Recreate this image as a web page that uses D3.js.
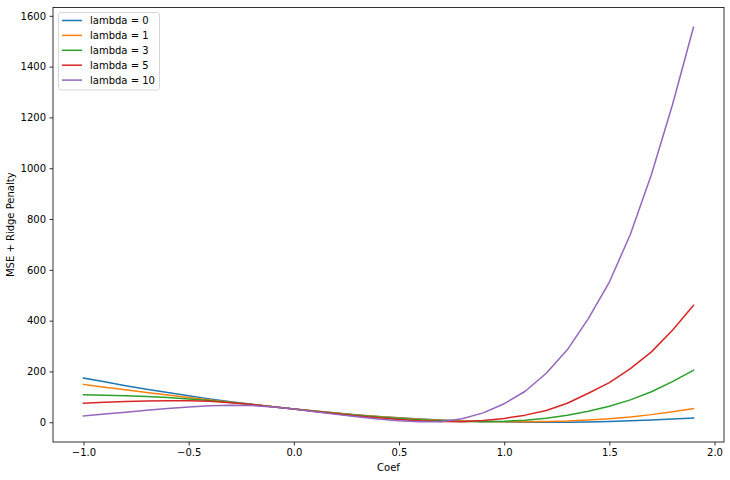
<!DOCTYPE html>
<html>
<head>
<meta charset="utf-8">
<script src="https://cdn.jsdelivr.net/npm/d3@7"></script>
<style>
  body { margin: 0; background: #fff; }
  text { font-family: "DejaVu Sans", sans-serif; }
</style>
</head>
<body>
<svg width="730" height="480"></svg>
<script>
// coef values on the x axis
var coefs = [-1.0, -0.9, -0.8, -0.7, -0.6, -0.5, -0.4, -0.3, -0.2, -0.1,
             0.0, 0.1, 0.2, 0.3, 0.4, 0.5, 0.6, 0.7, 0.8, 0.9,
             1.0, 1.1, 1.2, 1.3, 1.4, 1.5, 1.6, 1.7, 1.8, 1.9];

// MSE + ridge penalty, one array per lambda
var lambda0 = [174, 159, 144, 130, 117, 104, 92, 81, 71, 61,
               52, 44, 36, 29, 23, 18, 13, 9, 6, 3.4,
               1.5, 0.4, 0, 0.3, 1.3, 3, 5.5, 8.6, 12.5, 17];
var lambda1 = [149, 138, 128, 117, 107, 97, 88, 79, 70, 61,
               52, 44, 36, 29, 23, 17, 12, 8, 5, 3,
               2, 2, 3, 5, 9, 14, 21, 30, 41, 54];
var lambda3 = [108, 106, 104, 101, 97, 92, 86, 78, 70, 61,
               52, 43, 35, 28, 21, 15, 10, 6, 3, 2,
               4, 8, 16, 28, 43, 63, 88, 120, 160, 205];
var lambda5 = [75, 79, 82, 84, 85, 85, 83, 77, 70, 61,
               52, 42, 33, 25, 18, 11, 6, 3, 2, 7,
               15, 28, 46, 75, 114, 156, 211, 277, 362, 460];
var lambda10 = [25, 32, 39, 47, 54, 60, 65, 67, 66, 60,
                52, 41, 31, 22, 13, 6, 2, 2, 14, 37,
                73, 122, 193, 285, 408, 552, 740, 975, 1250, 1555];

var labels = ["lambda = 0", "lambda = 1", "lambda = 3", "lambda = 5", "lambda = 10"];
var colors = ["#1f77b4", "#ff7f0e", "#2ca02c", "#d62728", "#9467bd"];
var series = [lambda0, lambda1, lambda3, lambda5, lambda10];

var xTicks = [-1.0, -0.5, 0.0, 0.5, 1.0, 1.5, 2.0];
var yTicks = [0, 200, 400, 600, 800, 1000, 1200, 1400, 1600];

// plot area
var plotLeft = 53, plotRight = 724, plotTop = 7.5, plotBottom = 442;

var svg = d3.select("svg");

// matplotlib style 5% margins
var xExt = d3.extent(coefs);
var xPad = (xExt[1] - xExt[0]) * 0.05;
var allY = d3.merge(series);
var yExt = d3.extent(allY);
var yPad = (yExt[1] - yExt[0]) * 0.05;

var x = d3.scaleLinear()
    .domain([xExt[0] - xPad, xExt[1] + xPad])
    .range([plotLeft, plotRight]);
var y = d3.scaleLinear()
    .domain([yExt[0] - yPad, yExt[1] + yPad])
    .range([plotBottom, plotTop]);

var line = d3.line()
    .x(function(d, i) { return x(coefs[i]); })
    .y(function(d) { return y(d); });

// curves
svg.append("g")
  .selectAll("path")
  .data(series)
  .enter().append("path")
    .attr("d", line)
    .attr("fill", "none")
    .attr("stroke", function(d, i) { return colors[i]; })
    .attr("stroke-width", 1.5)
    .attr("stroke-linejoin", "round")
    .attr("stroke-linecap", "square");

// axes
var xAxis = svg.append("g")
    .attr("transform", "translate(0," + plotBottom + ")")
    .call(d3.axisBottom(x).tickValues(xTicks).tickFormat(d3.format(".1f"))
      .tickSizeInner(3.5).tickSizeOuter(0).tickPadding(3.5));
var yAxis = svg.append("g")
    .attr("transform", "translate(" + plotLeft + ",0)")
    .call(d3.axisLeft(y).tickValues(yTicks).tickFormat(d3.format("d"))
      .tickSizeInner(3.5).tickSizeOuter(0).tickPadding(3.5));

[xAxis, yAxis].forEach(function(a) {
  a.select(".domain").remove();
  a.selectAll(".tick line").attr("stroke", "#000").attr("stroke-width", 0.8);
  a.selectAll(".tick text")
    .attr("fill", "#000")
    .style("font-size", "10px")
    .style("font-family", "DejaVu Sans");
});
// keep the minus sign like matplotlib
xAxis.selectAll(".tick text").text(function(d) { return d3.format(".1f")(d).replace("-", "\u2212"); });

// frame
svg.append("rect")
    .attr("x", plotLeft).attr("y", plotTop)
    .attr("width", plotRight - plotLeft).attr("height", plotBottom - plotTop)
    .attr("fill", "none")
    .attr("stroke", "#000")
    .attr("stroke-width", 0.8);

// axis labels
svg.append("text")
    .attr("x", (plotLeft + plotRight) / 2)
    .attr("y", 471)
    .attr("text-anchor", "middle")
    .style("font-size", "10px")
    .text("Coef");

svg.append("text")
    .attr("transform", "translate(14," + (plotTop + plotBottom) / 2 + ") rotate(-90)")
    .attr("text-anchor", "middle")
    .style("font-size", "10px")
    .text("MSE + Ridge Penalty");

// legend
var legend = svg.append("g");
legend.append("rect")
    .attr("x", 58.5).attr("y", 12.5)
    .attr("width", 101).attr("height", 77.5)
    .attr("rx", 2.5)
    .attr("fill", "#fff").attr("fill-opacity", 0.8)
    .attr("stroke", "#ccc").attr("stroke-width", 0.8);

var item = legend.selectAll(".item")
  .data(labels)
  .enter().append("g")
    .attr("class", "item")
    .attr("transform", function(d, i) { return "translate(0," + (20.5 + i * 14.9) + ")"; });

item.append("line")
    .attr("x1", 62).attr("x2", 82)
    .attr("stroke", function(d, i) { return colors[i]; })
    .attr("stroke-width", 1.5);

item.append("text")
    .attr("x", 90)
    .attr("dy", "0.35em")
    .style("font-size", "10px")
    .text(function(d) { return d; });
</script>
</body>
</html>
